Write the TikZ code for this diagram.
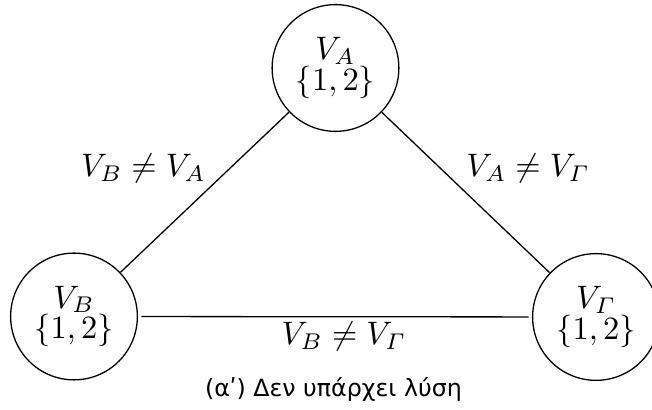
\documentclass[tikz,border=0pt]{standalone}
\usepackage{amsmath}
\usepackage{fontspec}
\newfontfamily\capfont{DejaVu Sans}
\begin{document}
\begin{tikzpicture}[x=0.3077pt,y=-0.3077pt,
  state/.style={circle,draw,line width=0.4pt,minimum size=39pt,inner sep=0pt,align=center},
  lbl/.style={inner sep=0pt,anchor=base},
  edgeline/.style={draw,line width=0.4pt}]
\useasboundingbox (0,0) rectangle (652,410);
\node[state] (A) at (335.5,68) {$V_A$\\[-2.5pt]$\{1,2\}$};
\node[state] (B) at (74,316.5) {$V_B$\\[-2.5pt]$\{1,2\}$};
\node[state] (G) at (596,317) {$V_{\varGamma}$\\[-2.5pt]$\{1,2\}$};
\path[edgeline] (A) -- (B);
\path[edgeline] (A) -- (G);
\path[edgeline,shorten <=1pt,shorten >=1pt] (B) -- (G);
\node[lbl] (lab) at (143.5,177) {$V_B \neq V_A$};
\node[lbl] (lag) at (528,177) {$V_A \neq V_{\varGamma}$};
\node[lbl] (lbg) at (344,345) {$V_B \neq V_{\varGamma}$};
\node[lbl] (cap) at (333.5,397) {\capfont\fontsize{7.3pt}{9pt}\selectfont (αʹ) Δεν υπάρχει λύση};
\end{tikzpicture}
\end{document}
